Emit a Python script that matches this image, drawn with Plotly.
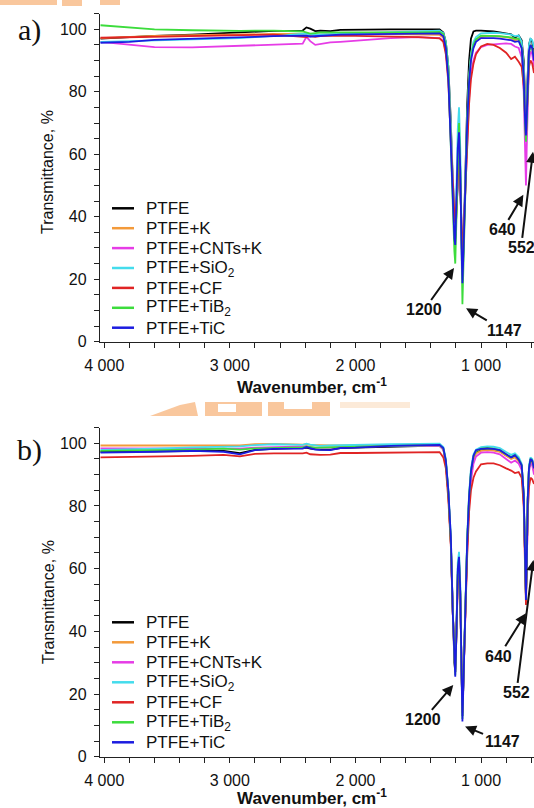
import plotly.graph_objects as go

# ---------------- data ----------------
wavenumber = [4030, 3800, 3600, 3300, 3050, 2920, 2800, 2650, 2420, 2390, 2360, 2320, 2280, 2200, 2120, 2000, 1720, 1500, 1330,
              1300, 1280, 1260, 1240, 1225, 1212, 1205, 1195, 1185, 1175, 1165, 1155, 1148, 1140, 1125, 1110, 1095, 1080, 1060, 1040,
              1000, 950, 900, 850, 800, 760, 730, 700, 676, 660, 648, 642, 636, 628, 618, 606, 592, 578]

series_names = ["PTFE", "PTFE+K", "PTFE+CNTs+K", "PTFE+SiO<sub>2</sub>", "PTFE+CF", "PTFE+TiB<sub>2</sub>", "PTFE+TiC"]
series_colors = ["#000000", "#f39a3a", "#e63ce6", "#44dcec", "#e02424", "#3cdc3c", "#1c1ce0"]

# panel a)
a_ptfe = [97.0, 97.5, 97.9, 98.3, 98.7, 98.9, 99.2, 99.5, 99.6, 100.6, 100.2, 99.4, 99.6, 99.4, 99.8, 99.9, 100.0, 100.0, 100.0,
          99.0, 96.0, 88.0, 70.0, 50.0, 37.0, 33.0, 42.0, 54.0, 60.0, 52.0, 33.0, 22.0, 30.0, 55.0, 76.0, 90.0, 97.0, 99.3, 99.6,
          99.6, 99.5, 99.3, 99.0, 98.8, 98.4, 97.3, 98.0, 96.5, 90.0, 77.0, 72.0, 78.0, 88.0, 95.0, 97.0, 96.0, 92.0]
a_k = [97.2, 97.6, 97.9, 98.1, 98.3, 98.3, 98.4, 98.5, 98.5, 98.8, 98.4, 98.3, 98.4, 98.5, 98.6, 98.6, 98.5, 98.4, 98.2,
       97.4, 94.0, 86.0, 68.0, 50.0, 38.0, 34.0, 44.0, 57.0, 64.0, 54.0, 33.0, 21.0, 29.0, 53.0, 70.0, 84.0, 91.0, 95.0, 96.5,
       97.5, 97.8, 97.8, 97.7, 97.5, 97.2, 96.5, 96.8, 94.5, 87.0, 73.0, 70.0, 75.0, 86.0, 93.0, 95.0, 94.0, 90.0]
a_cnt_k = [96.0, 95.0, 94.3, 94.2, 94.5, 94.7, 94.9, 95.2, 95.4, 97.6, 96.2, 95.0, 95.3, 95.8, 96.0, 96.3, 97.2, 97.5, 97.2,
           96.2, 93.0, 85.0, 66.0, 50.0, 40.0, 37.0, 44.0, 52.0, 56.0, 50.0, 34.0, 27.0, 33.0, 50.0, 65.0, 78.0, 86.0, 90.0, 92.5,
           94.3, 95.0, 95.2, 95.3, 95.5, 95.3, 94.5, 94.0, 91.0, 80.0, 58.0, 50.0, 62.0, 80.0, 90.0, 93.0, 92.0, 88.0]
a_sio2 = [96.0, 96.2, 96.5, 96.7, 97.0, 97.2, 97.5, 97.9, 98.3, 98.6, 98.3, 98.2, 98.4, 98.5, 98.6, 98.8, 99.0, 99.3, 99.6,
          98.8, 96.0, 88.0, 68.0, 50.0, 37.0, 34.0, 50.0, 68.0, 75.0, 62.0, 35.0, 20.0, 30.0, 55.0, 72.0, 85.0, 92.0, 96.0, 97.5,
          98.7, 98.9, 98.9, 98.8, 98.6, 98.3, 97.8, 98.0, 96.0, 88.0, 74.0, 70.0, 76.0, 88.0, 95.0, 97.0, 96.5, 94.0]
a_cf = [97.3, 97.5, 97.7, 97.9, 98.2, 98.2, 98.2, 98.3, 97.8, 97.5, 97.8, 97.6, 97.8, 97.9, 98.0, 97.9, 97.8, 97.5, 97.1,
        96.0, 92.0, 83.0, 64.0, 50.0, 41.0, 38.0, 46.0, 54.0, 58.0, 50.0, 35.0, 28.0, 34.0, 50.0, 64.0, 76.0, 84.0, 89.0, 92.0,
        94.5, 95.3, 95.0, 94.0, 92.5, 90.5, 91.2, 89.6, 88.0, 82.0, 70.0, 66.0, 72.0, 82.0, 88.0, 90.0, 89.0, 86.0]
a_tib2 = [101.3, 100.6, 100.0, 99.7, 99.5, 99.5, 99.6, 99.6, 99.3, 99.0, 98.6, 98.8, 99.0, 99.0, 99.0, 99.0, 98.8, 99.0, 99.2,
          98.5, 95.0, 86.0, 62.0, 42.0, 29.0, 25.0, 42.0, 62.0, 70.0, 55.0, 25.0, 12.0, 24.0, 52.0, 70.0, 84.0, 91.0, 95.0, 96.8,
          98.0, 98.0, 98.0, 97.8, 97.6, 97.4, 97.0, 97.0, 94.0, 84.0, 68.0, 64.0, 70.0, 84.0, 92.0, 95.0, 94.0, 91.0]
a_tic = [95.7, 96.0, 96.6, 96.9, 97.3, 97.4, 97.6, 97.8, 97.9, 98.0, 97.7, 97.8, 97.9, 98.2, 98.3, 98.4, 98.5, 98.6, 98.7,
         97.8, 94.0, 84.0, 62.0, 44.0, 33.0, 31.0, 46.0, 62.0, 67.0, 55.0, 30.0, 18.7, 28.0, 52.0, 70.0, 83.0, 90.0, 94.0, 96.0,
         97.2, 97.3, 97.2, 97.0, 96.8, 96.5, 96.0, 96.2, 94.0, 85.0, 70.0, 66.0, 72.0, 85.0, 93.0, 95.0, 94.0, 90.0]

# panel b)
b_ptfe = [97.3, 97.4, 97.5, 97.7, 97.6, 96.9, 97.9, 98.2, 98.4, 98.6, 98.3, 98.1, 98.0, 98.0, 98.5, 98.6, 99.0, 99.1, 99.2,
          98.2, 94.0, 84.0, 68.0, 46.0, 30.0, 27.0, 40.0, 58.0, 62.0, 52.0, 28.0, 13.0, 24.0, 50.0, 68.0, 82.0, 90.0, 95.0, 97.0,
          97.8, 98.0, 97.9, 97.5, 96.2, 95.3, 95.8, 94.6, 92.5, 83.0, 62.0, 51.0, 62.0, 82.0, 92.0, 94.5, 94.0, 91.5]
b_k = [99.3, 99.3, 99.3, 99.3, 99.4, 99.3, 99.7, 99.8, 99.6, 99.7, 99.5, 99.4, 99.3, 99.3, 99.3, 99.4, 99.4, 99.3, 99.2,
       98.0, 94.0, 84.0, 68.0, 46.0, 30.0, 27.0, 40.0, 58.0, 62.0, 52.0, 28.0, 13.0, 24.0, 50.0, 68.0, 82.0, 90.0, 95.0, 96.8,
       97.6, 97.8, 97.7, 97.3, 96.0, 95.0, 95.5, 94.2, 92.0, 82.0, 62.0, 51.0, 62.0, 82.0, 92.0, 94.0, 93.5, 91.0]
b_cnt_k = [98.4, 98.4, 98.4, 98.5, 98.5, 98.3, 98.6, 98.7, 98.8, 99.0, 98.7, 98.6, 98.6, 98.6, 98.8, 98.9, 99.1, 99.2, 99.2,
           98.0, 94.0, 84.0, 68.0, 46.0, 30.0, 27.0, 40.0, 57.0, 61.0, 51.0, 28.0, 13.0, 24.0, 48.0, 66.0, 80.0, 88.0, 93.5, 95.8,
           97.0, 97.2, 97.0, 96.5, 95.0, 93.8, 94.5, 93.5, 91.5, 82.0, 62.0, 52.0, 62.0, 80.0, 91.0, 93.5, 93.0, 90.0]
b_sio2 = [97.9, 98.0, 98.3, 98.7, 99.0, 99.0, 99.4, 99.7, 99.5, 99.9, 99.6, 99.3, 99.2, 99.3, 99.4, 99.5, 99.7, 99.8, 99.9,
          98.8, 95.0, 85.0, 70.0, 47.0, 30.0, 27.0, 42.0, 62.0, 65.4, 55.0, 28.0, 13.0, 25.0, 52.0, 70.0, 84.0, 92.0, 96.5, 98.0,
          98.8, 99.0, 98.9, 98.5, 97.2, 96.3, 96.8, 95.6, 93.5, 84.0, 62.0, 51.0, 62.0, 83.0, 93.0, 95.5, 95.0, 92.5]
b_cf = [95.5, 95.6, 95.8, 96.0, 96.3, 95.8, 96.6, 96.8, 96.8, 97.0, 96.5, 96.3, 96.3, 96.4, 96.9, 96.9, 97.0, 97.0, 97.2,
        95.5, 92.0, 82.0, 67.0, 46.0, 31.0, 28.0, 40.0, 56.0, 60.0, 50.0, 28.0, 14.0, 25.0, 48.0, 64.0, 78.0, 85.0, 89.0, 91.0,
        93.3, 93.6, 93.6, 93.0, 92.0, 91.3, 90.5, 90.8, 89.0, 80.0, 58.0, 48.4, 60.0, 78.0, 86.0, 89.0, 88.5, 87.0]
b_tib2 = [97.6, 97.7, 97.8, 98.0, 98.3, 98.0, 98.4, 98.6, 98.7, 99.0, 98.8, 98.6, 98.6, 98.7, 98.9, 99.0, 99.2, 99.3, 99.4,
          98.3, 94.5, 84.5, 68.5, 46.0, 29.0, 26.0, 40.0, 59.0, 63.0, 52.0, 27.0, 12.0, 24.0, 50.0, 69.0, 83.0, 91.0, 95.8, 97.5,
          98.3, 98.5, 98.3, 97.8, 96.5, 95.6, 96.2, 95.0, 93.0, 84.0, 62.0, 50.5, 62.0, 82.0, 92.0, 95.0, 94.5, 92.0]
b_tic = [97.0, 97.1, 97.3, 97.6, 97.3, 96.5, 97.8, 98.2, 98.3, 98.8, 98.4, 98.0, 97.9, 97.8, 98.5, 98.6, 99.2, 99.3, 99.5,
         98.5, 94.5, 85.0, 70.0, 46.0, 29.0, 25.5, 40.0, 60.0, 63.8, 53.0, 27.0, 11.2, 23.0, 50.0, 69.0, 83.0, 91.0, 96.0, 97.8,
         98.2, 98.4, 98.2, 97.8, 96.5, 95.5, 96.2, 94.8, 93.0, 84.0, 62.0, 50.0, 62.0, 82.0, 92.0, 95.0, 94.5, 92.0]

panel_a = [a_ptfe, a_k, a_cnt_k, a_sio2, a_cf, a_tib2, a_tic]
panel_b = [b_ptfe, b_k, b_cnt_k, b_sio2, b_cf, b_tib2, b_tic]

x_tick_vals = [4000, 3000, 2000, 1000]
x_tick_text = ["4 000", "3 000", "2 000", "1 000"]

# peak labels: (label, arrow tip wavenumber, arrow tip T, label offset dx px, label offset dy px)
peaks_a = [("1200", 1215, 23.6, -30, 42), ("1147", 1119, 10.7, 38, 22),
           ("640", 663, 47.0, -21, 35), ("552", 586, 60.8, -12, 96)]
peaks_b = [("1200", 1221, 22.9, -30, 35), ("1147", 1127, 9.6, 37, 15),
           ("640", 642, 45.8, -27, 43), ("552", 583, 62.8, -17, 133)]

# ---------------- layout geometry ----------------
W, H = 534, 808
FONT = "Arial, Liberation Sans, sans-serif"


def px(x):
    return x / W


def py(y):
    return 1 - y / H


fig = go.Figure()
for vals in panel_a + panel_b:
    assert len(vals) == len(wavenumber)

for vals, name, col in zip(panel_a, series_names, series_colors):
    fig.add_trace(go.Scatter(x=wavenumber, y=vals, mode="lines", name=name, showlegend=False,
                             line=dict(color=col, width=1.8), xaxis="x", yaxis="y"))
for vals, name, col in zip(panel_b, series_names, series_colors):
    fig.add_trace(go.Scatter(x=wavenumber, y=vals, mode="lines", name=name, showlegend=False,
                             line=dict(color=col, width=1.8), xaxis="x2", yaxis="y2"))

xcommon = dict(range=[4034, 578], tickvals=x_tick_vals, ticktext=x_tick_text, ticks="outside", ticklen=5,
               tickwidth=1.2, tickcolor="#222", showline=True, linecolor="#222", linewidth=1.3, showgrid=False,
               zeroline=False, tickfont=dict(family=FONT, size=16, color="#111"), ticklabelstandoff=4,
               minor=dict(dtick=200, tick0=0, ticks="outside", ticklen=5, tickwidth=1.2, tickcolor="#222"),
               domain=[px(100), 1.0], automargin=False)
ycommon = dict(range=[0, 105], tickvals=[0, 20, 40, 60, 80, 100], ticks="outside", ticklen=5, tickwidth=1.2,
               tickcolor="#222", showline=True, linecolor="#222", linewidth=1.3, showgrid=False, zeroline=False,
               tickfont=dict(family=FONT, size=16, color="#111"), ticklabelstandoff=4, automargin=False,
               minor=dict(dtick=5, tick0=0, ticks="outside", ticklen=5, tickwidth=1.2, tickcolor="#222"))

fig.update_layout(
    width=W, height=H, margin=dict(l=0, r=0, t=0, b=0, pad=0, autoexpand=False),
    paper_bgcolor="white", plot_bgcolor="white",
    xaxis=dict(anchor="y", **xcommon),
    yaxis=dict(anchor="x", domain=[py(341.7), py(341.7 - 105 * 3.124)], **ycommon),
    xaxis2=dict(anchor="y2", **xcommon),
    yaxis2=dict(anchor="x2", domain=[py(756.7), py(756.7 - 105 * 3.134)], **ycommon),
)

annotations = []
shapes = []

# axis titles and panel tags
for (xt_y, yt_y, tag_y, tag) in [(386.5, 172, 30, "a)"), (797, 602, 450, "b)")]:
    annotations.append(dict(text="<b>Wavenumber, cm<sup>-1</sup></b>", x=px(311.7), y=py(xt_y), xref="paper", yref="paper",
                            showarrow=False, font=dict(family=FONT, size=17, color="#111"), xanchor="center", yanchor="middle"))
    annotations.append(dict(text="Transmittance, %", x=px(48), y=py(yt_y), xref="paper", yref="paper", textangle=-90,
                            showarrow=False, font=dict(family=FONT, size=16, color="#111"), xanchor="center", yanchor="middle"))
    annotations.append(dict(text=tag, x=px(29), y=py(tag_y), xref="paper", yref="paper", showarrow=False,
                            font=dict(family="Liberation Serif, Times New Roman, serif", size=30, color="#111"),
                            xanchor="center", yanchor="middle"))

# manual legends
legend_rows = [[208.3 + 19.9 * k for k in range(7)], [622.3 + 20.0 * k for k in range(7)]]
for rows in legend_rows:
    for yy, name, col in zip(rows, series_names, series_colors):
        shapes.append(dict(type="line", xref="paper", yref="paper", x0=px(112), x1=px(134), y0=py(yy), y1=py(yy),
                           line=dict(color=col, width=2.5)))
        annotations.append(dict(text=name, x=px(143.5), y=py(yy + 0.5), xref="paper", yref="paper", showarrow=False,
                                xanchor="left", yanchor="middle", font=dict(family=FONT, size=17, color="#111")))

# peak annotations: bold label with arrow pointing to the band
for peaks, xr, yr in [(peaks_a, "x", "y"), (peaks_b, "x2", "y2")]:
    for label, tx, ty, dx, dy in peaks:
        annotations.append(dict(text="<b>%s</b>" % label, x=tx, y=ty, xref=xr, yref=yr, showarrow=True, ax=dx, ay=dy,
                                arrowhead=2, arrowsize=1.1, arrowwidth=2, arrowcolor="#111", standoff=0,
                                font=dict(family=FONT, size=16, color="#111")))

# faint watermark fragments (orange logo peeking through)
wm = "rgba(246,175,115,0.7)"
for (x0, y0, x1, y1) in [(0, 0, 57, 5), (62, 0, 82, 6), (100, 0, 120, 5),
                         (205, 402, 262, 416), (268, 402, 330, 416)]:
    shapes.append(dict(type="rect", xref="paper", yref="paper", x0=px(x0), x1=px(x1), y0=py(y1), y1=py(y0),
                       fillcolor=wm, line=dict(width=0), layer="below"))
for (x0, y0, x1, y1) in [(218, 404, 236, 412), (284, 402, 312, 409)]:
    shapes.append(dict(type="rect", xref="paper", yref="paper", x0=px(x0), x1=px(x1), y0=py(y1), y1=py(y0),
                       fillcolor="white", line=dict(width=0), layer="below"))
shapes.append(dict(type="path", xref="paper", yref="paper", layer="below", fillcolor=wm, line=dict(width=0),
                   path="M %f %f L %f %f L %f %f L %f %f Z" % (px(150), py(416), px(180), py(405), px(195), py(402), px(198), py(416))))
shapes.append(dict(type="rect", xref="paper", yref="paper", x0=px(340), x1=px(410), y0=py(408), y1=py(402),
                   fillcolor="rgba(250,220,190,0.6)", line=dict(width=0), layer="below"))

fig.update_layout(annotations=annotations, shapes=shapes)
fig.write_html("out.html", config={"displayModeBar": False},
               post_script="document.body.style.margin='0';document.body.style.padding='0';")
